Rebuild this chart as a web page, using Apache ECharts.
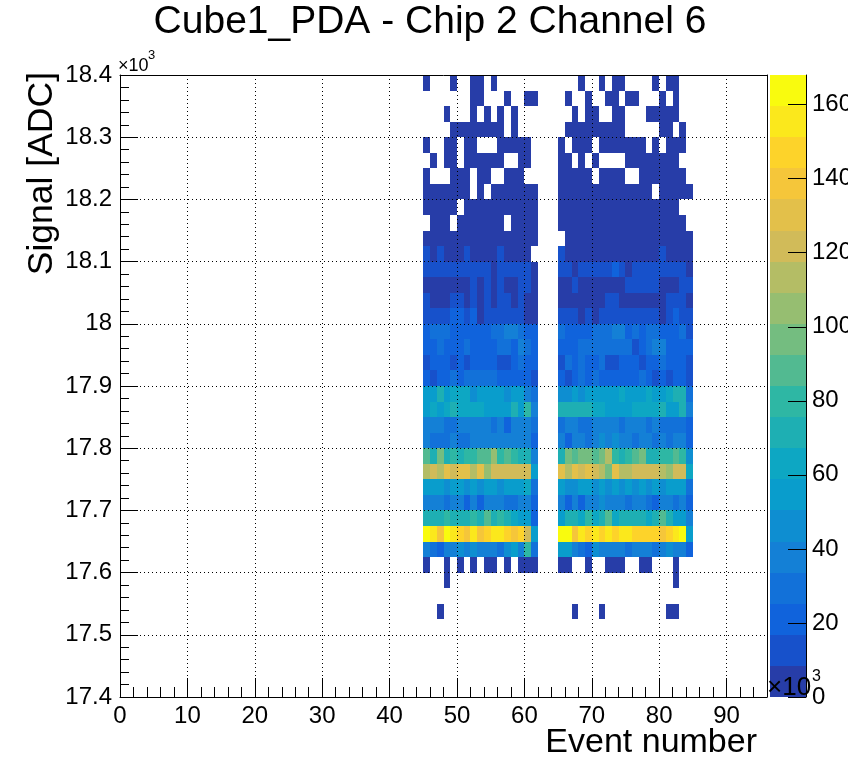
<!DOCTYPE html>
<html><head><meta charset="utf-8">
<script src="https://cdn.jsdelivr.net/npm/echarts@6/dist/echarts.min.js"></script>
<style>html,body{margin:0;padding:0;background:#fff}#c{width:868px;height:760px}</style>
</head><body><div id="c"></div>
<script>
// ---------------- data ----------------
const titleText = 'Cube1_PDA - Chip 2 Channel 6';
const xTitle = 'Event number';
const yTitle = 'Signal [ADC]';
const xRange = [0, 96];
const yRange = [17400, 18400];          // ADC
const zRange = [0, 168];                // x10^3
const xTickStep = 10, xMinorStep = 2;
const yTickStep = 100;
const zTickStep = 20;
const binWidth = 1;                     // events
const binHeight = 25;                   // ADC
const nContours = 20;
const leftFirstEvent = 45;
const rightFirstEvent = 65;
// Each string is one y-bin row, from the top (18375-18400) downwards.
// One char per event bin: '.' = empty, '0'..'9','a'..'j' = colour contour.
const leftBlock = [
  "0...0..00.0......",
  ".......00...0..00",
  "...0...0.0.0.0...",
  "....00000000.0...",
  "0..00.00...00000.",
  ".0.00.000000..00.",
  "0...000.00..000..",
  "0000000.0.0000000",
  "00000.00000000000",
  ".000.0000000.0000",
  "00000000000000000",
  "1010001000010000.",
  "11111111110111110",
  "00000001010100110",
  "10001101010110100",
  "11112212011111100",
  "23332222223344322",
  "22322232222332432",
  "12221212222112322",
  "21223233333222221",
  "66867775666656643",
  "67678777766668694",
  "44433444443424443",
  "43334334444444442",
  "a8b89899aac9a9884",
  "dedfeffdfceeeeee6",
  "66656656566566673",
  "44434424244433442",
  "888988898a8987662",
  "jigjihgighiihghe6",
  "43244545444356493",
  "0..0.0.0.00.0.000",
  "...0.............",
  ".................",
  "..0..............",
  ".................",
  ".................",
  ".................",
  ".................",
  "................."
];
const rightBlock = [
  "...0..0.00....0.00..",
  ".0..0..00.00...0.0..",
  "..0.00..00...00000..",
  ".000000000.....00.0.",
  "0.000.0000000.0.000.",
  "00.0.0....00000000..",
  "00000.0000..0000000.",
  "00000000000000.00000",
  "000000000000000000..",
  "0000000000000000000.",
  ".0000000000000000000",
  "10000000000000010000",
  "11011111210111111110",
  "00100000001111100011",
  "00000001100000001110",
  "11101011111111101211",
  "32222333442323322231",
  "22233333333123442222",
  "13232231122212232221",
  "21232322222232121221",
  "55656666676667667883",
  "88888776666777786684",
  "34433444434443433332",
  "42443454544344343442",
  "8babbabd989ab8899a95",
  "fdfefedbfddeeeedcee7",
  "65566565656565656663",
  "42424454443443244342",
  "6887978a7888878a8664",
  "jjgihihihiihhhhghij6",
  "66432544443444345442",
  "00..0..000..00...0..",
  ".................0..",
  "....................",
  "..0...0.........00..",
  "....................",
  "....................",
  "....................",
  "....................",
  "...................."
];

// ---------------- style ----------------
const FONT = "'Liberation Sans', Arial, Helvetica, sans-serif";
const birdStops = [0, 0.125, 0.25, 0.375, 0.5, 0.625, 0.75, 0.875, 1];
const birdR = [0.2082, 0.0592, 0.0780, 0.0232, 0.1802, 0.5301, 0.8186, 0.9956, 0.9764];
const birdG = [0.1664, 0.3599, 0.5041, 0.6419, 0.7178, 0.7492, 0.7328, 0.7862, 0.9832];
const birdB = [0.5293, 0.8684, 0.8385, 0.7914, 0.6425, 0.4662, 0.3499, 0.1968, 0.0539];
function bird(t) {
  let j = 0;
  while (j < birdStops.length - 2 && t > birdStops[j + 1]) j++;
  const f = (t - birdStops[j]) / (birdStops[j + 1] - birdStops[j]);
  const c = a => Math.round(255 * (a[j] + (a[j + 1] - a[j]) * f));
  return 'rgb(' + c(birdR) + ',' + c(birdG) + ',' + c(birdB) + ')';
}
const palette = [];
for (let k = 0; k < nContours; k++) palette.push(bird(Math.floor((k + 0.99) * 255 / nContours) / 254));

// ---------------- build series data ----------------
const LEVELS = '0123456789abcdefghij';
const bandSize = (zRange[1] - zRange[0]) / nContours;
const cells = [];
function addBlock(rows, firstEvent) {
  rows.forEach((s, r) => {
    const yLow = yRange[1] - binHeight * (r + 1);
    for (let i = 0; i < s.length; i++) {
      if (s[i] === '.') continue;
      const lv = LEVELS.indexOf(s[i]);
      cells.push([firstEvent + i * binWidth, yLow, +(zRange[0] + (lv + 0.5) * bandSize).toFixed(2)]);
    }
  });
}
addBlock(leftBlock, leftFirstEvent);
addBlock(rightBlock, rightFirstEvent);
const bands = palette.map((c, k) => [zRange[0] + k * bandSize, zRange[0] + (k + 1) * bandSize, zRange[0] + (k + 0.5) * bandSize]);

const chart = echarts.init(document.getElementById('c'), null, {renderer: 'canvas'});
const black = '#000';
const dotted = {color: black, width: 1, type: [1, 3]};
function pixelRect(p0, p1, color) {
  const x0 = Math.round(p0[0]), x1 = Math.round(p1[0]);
  const y0 = Math.round(p0[1]), y1 = Math.round(p1[1]);
  return {type: 'rect', shape: {x: x0, y: y0, width: x1 - x0, height: y1 - y0},
    style: {fill: color, stroke: null}};
}
const option = {
  animation: false,
  backgroundColor: '#fff',
  textStyle: {fontFamily: FONT},
  grid: [
    {left: 120, top: 75, width: 647, height: 622},
    {left: 770, top: 75, width: 36, height: 622}
  ],
  visualMap: {type: 'piecewise', show: false, dimension: 2, seriesIndex: [0, 1],
    pieces: palette.map((c, k) => ({gte: zRange[0] + k * bandSize, lt: zRange[0] + (k + 1) * bandSize + (k === nContours - 1 ? 1 : 0), color: c}))},
  xAxis: [
    {type: 'value', gridIndex: 0, min: xRange[0], max: xRange[1], interval: xTickStep, position: 'bottom', z: 10,
      axisLine: {show: true, onZero: false, lineStyle: {color: black, width: 1}},
      axisTick: {show: true, inside: true, length: 19, lineStyle: {color: black, width: 1}},
      axisLabel: {show: true, fontSize: 24, color: black, fontFamily: FONT, margin: 7, showMaxLabel: false},
      splitLine: {show: true, lineStyle: dotted}},
    {type: 'value', gridIndex: 0, min: xRange[0], max: xRange[1], interval: xMinorStep, position: 'bottom', z: 10,
      axisLine: {show: false, onZero: false},
      axisTick: {show: true, inside: true, length: 10, lineStyle: {color: black, width: 1}},
      axisLabel: {show: false}, splitLine: {show: false}},
    {type: 'value', gridIndex: 0, min: xRange[0], max: xRange[1], position: 'top', z: 10,
      axisLine: {show: true, onZero: false, lineStyle: {color: black, width: 1}},
      axisTick: {show: false}, axisLabel: {show: false}, splitLine: {show: false}},
    {type: 'value', gridIndex: 1, min: 0, max: 1, show: false}
  ],
  yAxis: [
    {type: 'value', gridIndex: 0, min: yRange[0], max: yRange[1], interval: yTickStep, position: 'left', z: 10,
      axisLine: {show: true, onZero: false, lineStyle: {color: black, width: 1}},
      axisTick: {show: true, inside: true, length: 18, lineStyle: {color: black, width: 1}},
      minorTick: {show: true, splitNumber: 5, length: 9, lineStyle: {color: black, width: 1}},
      axisLabel: {show: true, fontSize: 24, color: black, fontFamily: FONT, margin: 8,
        formatter: v => String(+(v / 1000).toFixed(3))},
      splitLine: {show: true, lineStyle: dotted}},
    {type: 'value', gridIndex: 0, min: yRange[0], max: yRange[1], position: 'right', z: 10,
      axisLine: {show: true, onZero: false, lineStyle: {color: black, width: 1}},
      axisTick: {show: false}, axisLabel: {show: false}, splitLine: {show: false}},
    {type: 'value', gridIndex: 1, min: zRange[0], max: zRange[1], interval: zTickStep, position: 'right', z: 10,
      axisLine: {show: true, onZero: false, lineStyle: {color: black, width: 1}},
      axisTick: {show: true, inside: true, length: 18, lineStyle: {color: black, width: 1}},
      axisLabel: {show: true, fontSize: 24, color: black, fontFamily: FONT, margin: 6, showMaxLabel: false},
      splitLine: {show: false}}
  ],
  series: [
    {type: 'custom', xAxisIndex: 0, yAxisIndex: 0, data: cells, clip: true, z: 2,
      encode: {x: 0, y: 1},
      renderItem: (params, api) => {
        const x = api.value(0), y = api.value(1);
        return pixelRect(api.coord([x, y + binHeight]), api.coord([x + binWidth, y]), api.visual('color'));
      }},
    {type: 'custom', xAxisIndex: 3, yAxisIndex: 2, data: bands, clip: false, z: 2,
      encode: {y: [0, 1]},
      renderItem: (params, api) => {
        return pixelRect(api.coord([0, api.value(1)]), api.coord([1, api.value(0)]), api.visual('color'));
      }}
  ],
  graphic: [
    {type: 'text', x: 430, y: 22, z: 50,
      style: {text: titleText, fontSize: 39, fontFamily: FONT, fill: black, align: 'center', verticalAlign: 'middle'}},
    {type: 'text', x: 42, y: 72, rotation: Math.PI / 2, z: 50,
      style: {text: yTitle, fontSize: 35.5, fontFamily: FONT, fill: black, align: 'right', verticalAlign: 'middle'}},
    {type: 'text', x: 757, y: 743, z: 50,
      style: {text: xTitle, fontSize: 34, fontFamily: FONT, fill: black, align: 'right', verticalAlign: 'middle'}},
    {type: 'text', x: 118, y: 75, z: 50,
      style: {text: '×10', fontSize: 18, fontFamily: FONT, fill: black, align: 'left', verticalAlign: 'bottom'}},
    {type: 'text', x: 148, y: 62, z: 50,
      style: {text: '3', fontSize: 13, fontFamily: FONT, fill: black, align: 'left', verticalAlign: 'bottom'}},
    {type: 'text', x: 767, y: 701, z: 50,
      style: {text: '×10', fontSize: 26, fontFamily: FONT, fill: black, align: 'left', verticalAlign: 'bottom'}},
    {type: 'text', x: 812, y: 685, z: 50,
      style: {text: '3', fontSize: 16, fontFamily: FONT, fill: black, align: 'left', verticalAlign: 'bottom'}},
    {type: 'rect', shape: {x: 848, y: 0, width: 20, height: 760}, style: {fill: '#fff'}, z: 100}
  ]
};
chart.setOption(option);
</script>
</body></html>
